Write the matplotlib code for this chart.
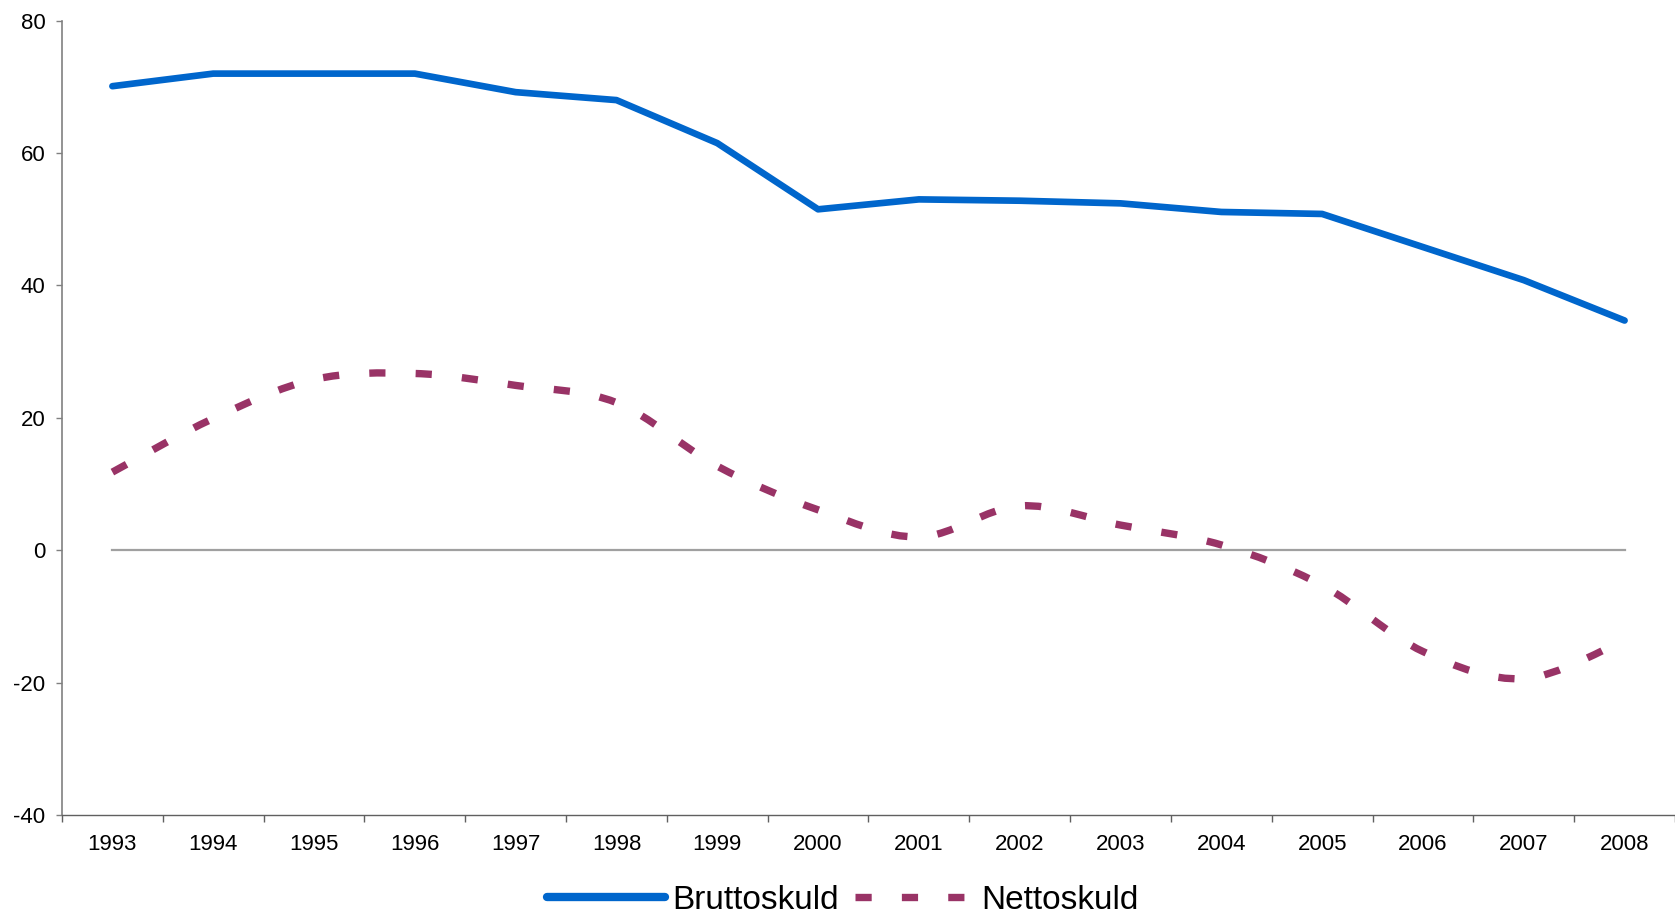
import matplotlib
matplotlib.use("Agg")
import matplotlib.pyplot as plt
from matplotlib.path import Path
from matplotlib.patches import PathPatch
from matplotlib.lines import Line2D
import numpy as np

plt.rcParams['font.family'] = ['Liberation Sans', 'DejaVu Sans']

years = ['1993', '1994', '1995', '1996', '1997', '1998', '1999', '2000',
         '2001', '2002', '2003', '2004', '2005', '2006', '2007', '2008']
brutto = [70.1, 72.0, 72.0, 72.0, 69.2, 68.0, 61.5, 51.5,
          53.0, 52.8, 52.4, 51.1, 50.8, 45.8, 40.8, 34.7]
netto = [11.8, 19.9, 25.8, 26.7, 24.9, 22.3, 12.7, 6.1,
         2.0, 6.7, 3.8, 0.8, -5.3, -15.3, -19.4, -13.6]

blue = '#0066CC'
plum = '#993366'
dash = (0, (2.2, 4.1))

fig = plt.figure(figsize=(16.75, 9.14), dpi=100)
ax = fig.add_axes([0.037, 0.1083, 0.963, 0.8691])

x = np.arange(len(years))

# zero line across the data range
ax.plot([x[0], x[-1]], [0, 0], color='#A0A0A0', lw=1.6, zorder=1)

# smoothed line for netto (bezier through the points, like excel's smoothing)
pts = np.column_stack([x, netto]).astype(float)
ext = np.vstack([pts[0], pts, pts[-1]])
verts = [tuple(pts[0])]
codes = [Path.MOVETO]
for i in range(len(pts) - 1):
    p0, p1, p2, p3 = ext[i], ext[i + 1], ext[i + 2], ext[i + 3]
    c1 = p1 + (p2 - p0) / 6.0
    c2 = p2 - (p3 - p1) / 6.0
    verts += [tuple(c1), tuple(c2), tuple(p2)]
    codes += [Path.CURVE4] * 3
patch = PathPatch(Path(verts, codes), facecolor='none', edgecolor=plum,
                  lw=5.3, linestyle=dash, capstyle='butt', zorder=2)
ax.add_patch(patch)

ax.plot(x, brutto, color=blue, lw=4.8, solid_capstyle='round',
        solid_joinstyle='round', zorder=3)

ax.set_xlim(-0.5, len(years) - 0.5)
ax.set_ylim(-40, 80)
ax.set_yticks([-40, -20, 0, 20, 40, 60, 80])
ax.set_yticklabels(['-40', '-20', '0', '20', '40', '60', '80'])

ax.set_xticks(np.arange(-0.5, len(years), 1.0))
ax.set_xticklabels([])
ax.set_xticks(x, minor=True)
ax.set_xticklabels(years, minor=True)

ax.tick_params(axis='y', which='major', direction='out', length=4, width=1,
               color='#808080', labelsize=16, pad=8)
ax.tick_params(axis='x', which='major', direction='out', length=5, width=1,
               color='#606060')
ax.tick_params(axis='x', which='minor', length=0, labelsize=16, pad=14)

for s in ['top', 'right']:
    ax.spines[s].set_visible(False)
ax.spines['left'].set_color('#808080')
ax.spines['left'].set_linewidth(1.2)
ax.spines['bottom'].set_color('#606060')
ax.spines['bottom'].set_linewidth(1.0)

handles = [Line2D([], [], color=blue, lw=6, solid_capstyle='round'),
           Line2D([], [], color=plum, lw=5.3, linestyle=dash,
                  dash_capstyle='butt')]
fig.legend(handles, ['Bruttoskuld', 'Nettoskuld'], loc='center',
           bbox_to_anchor=(0.503, 0.0152), ncol=2, frameon=False,
           fontsize=24, handlelength=3.55, handletextpad=0.22,
           columnspacing=0.5, borderpad=0, borderaxespad=0)

fig.savefig('out.png', dpi=100)
